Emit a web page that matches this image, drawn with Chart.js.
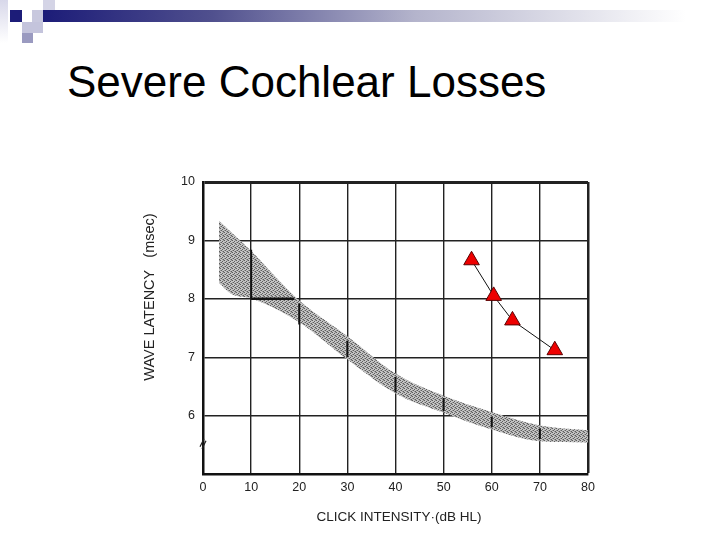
<!DOCTYPE html>
<html lang="en">
  <head>
    <meta charset="utf-8" />
    <title>Severe Cochlear Losses</title>
    <style>
      * {
        margin: 0;
        padding: 0;
        font-family: "Liberation Sans", Arial, sans-serif;
      }
      body {
        width: 720px;
        height: 540px;
        position: relative;
        background: white;
        overflow: hidden;
      }
      .bar {
        position: absolute;
        left: 43px;
        top: 10px;
        width: 677px;
        height: 12px;
        background: linear-gradient(to right, #1c1c78 0%, #50508e 25%, #b4b4cc 55%, #ffffff 95%);
      }
      .sq {
        position: absolute;
      }
      h1 {
        position: absolute;
        left: 67px;
        top: 60px;
        font-size: 44px;
        line-height: 44px;
        font-weight: normal;
        color: #000;
        white-space: nowrap;
      }
      .chartBox {
        position: absolute;
        left: 0;
        top: 0;
        width: 720px;
        height: 540px;
      }
    </style>
  </head>
  <body>
    <div class="bar"></div>
    <div class="sq" style="left:0;top:0;width:8px;height:43px;background:linear-gradient(#d8d8ea,#ffffff)"></div>
    <div class="sq" style="left:10px;top:10px;width:12px;height:12px;background:#1c1c78"></div>
    <div class="sq" style="left:32px;top:10px;width:11px;height:12px;background:#c8c8de"></div>
    <div class="sq" style="left:43px;top:0;width:12px;height:10px;background:#d4d4e6"></div>
    <div class="sq" style="left:22px;top:22px;width:21px;height:11px;background:#c4c4dc"></div>
    <div class="sq" style="left:22px;top:33px;width:11px;height:10px;background:#9a9ac0"></div>
    <h1>Severe Cochlear Losses</h1>

    <div class="chartBox">
      <canvas id="myChart" width="720" height="540"></canvas>
    </div>

    <script src="https://cdn.jsdelivr.net/npm/chart.js"></script>

    <script>
      // shaded normal range (upper and lower edge)
      const upperX = [3.3, 10, 20, 30, 40, 50, 60, 70, 80];
      const upperY = [9.34, 8.82, 7.97, 7.36, 6.72, 6.34, 6.06, 5.83, 5.75];
      const lowerX = [3.0, 6, 10, 20, 30, 40, 50, 60, 70, 80];
      const lowerY = [8.3, 8.08, 8.01, 7.6, 6.96, 6.38, 6.05, 5.76, 5.56, 5.54];

      // dark vertical marks printed inside the band
      const markX = [10, 20, 30, 40, 50, 60, 70];
      const markTop = [8.84, 7.92, 7.28, 6.66, 6.3, 5.98, 5.78];
      const markBottom = [8.0, 7.56, 7.0, 6.4, 6.08, 5.8, 5.6];
      // dark horizontal mark along the 8 ms line
      const hMarkX = [10, 19];
      const hMarkY = [8.0, 8.0];

      // patient (red triangles)
      const patientX = [55.8, 60.4, 64.3, 73.1];
      const patientY = [8.66, 8.05, 7.63, 7.12];

      const xTicks = [0, 10, 20, 30, 40, 50, 60, 70, 80];
      const yTicks = [6, 7, 8, 9, 10];

      const toPoints = (xs, ys) => xs.map((x, i) => ({ x: x, y: ys[i] }));

      function stipple() {
        const c = document.createElement("canvas");
        c.width = 4;
        c.height = 4;
        const g = c.getContext("2d");
        g.fillStyle = "#c4c4c4";
        g.fillRect(0, 0, 4, 4);
        g.fillStyle = "#5e5e5e";
        g.fillRect(0, 0, 1, 1);
        g.fillRect(2, 1, 1, 1);
        g.fillRect(1, 2, 1, 1);
        g.fillRect(3, 3, 1, 1);
        g.fillStyle = "#949494";
        g.fillRect(2, 3, 1, 1);
        g.fillRect(0, 2, 1, 1);
        g.fillRect(3, 0, 1, 1);
        return g.createPattern(c, "repeat");
      }

      const axisText = {
        id: "axisText",
        afterDraw(chart) {
          const { ctx } = chart;
          ctx.save();
          ctx.fillStyle = "#222";
          ctx.font = "13.5px 'Liberation Sans', Arial, sans-serif";
          ctx.textAlign = "center";
          ctx.textBaseline = "middle";
          ctx.fillText("CLICK INTENSITY\u00b7(dB HL)", 399, 517);
          ctx.font = "14.5px 'Liberation Sans', Arial, sans-serif";
          ctx.translate(150, 297);
          ctx.rotate(-Math.PI / 2);
          ctx.fillText("WAVE LATENCY   (msec)", 0, 0);
          ctx.restore();

          // axis break mark
          const y = chart.scales.y.getPixelForValue(5.5);
          const x = chart.chartArea.left;
          ctx.save();
          ctx.strokeStyle = "#222";
          ctx.lineWidth = 1.2;
          ctx.beginPath();
          ctx.moveTo(x - 3, y + 2);
          ctx.lineTo(x + 1, y - 6);
          ctx.moveTo(x - 1, y + 4);
          ctx.lineTo(x + 3, y - 4);
          ctx.stroke();
          ctx.restore();
        },
      };

      const markStyle = {
        borderColor: "#111",
        borderWidth: 2,
        pointRadius: 0,
        fill: false,
        order: 1,
      };

      const markSets = markX.map((x, i) =>
        Object.assign({ label: "mark" + i, data: [{ x: x, y: markTop[i] }, { x: x, y: markBottom[i] }] }, markStyle)
      );

      const data = {
        datasets: [
          {
            label: "upper",
            data: toPoints(upperX, upperY),
            borderWidth: 0,
            pointRadius: 0,
            cubicInterpolationMode: "monotone",
            backgroundColor: stipple(),
            fill: "+1",
            order: 10,
          },
          {
            label: "lower",
            data: toPoints(lowerX, lowerY),
            borderWidth: 0,
            pointRadius: 0,
            cubicInterpolationMode: "monotone",
            fill: false,
            order: 10,
          },
          ...markSets,
          Object.assign({ label: "hmark", data: toPoints(hMarkX, hMarkY) }, markStyle, { borderWidth: 2.5 }),
          {
            label: "patient",
            data: toPoints(patientX, patientY),
            borderColor: "#111",
            borderWidth: 1,
            pointStyle: "triangle",
            pointRadius: 9,
            pointBackgroundColor: "#ee0000",
            pointBorderColor: "#5a0000",
            pointBorderWidth: 1,
            fill: false,
            order: 0,
          },
        ],
      };

      const tickFont = { family: "'Liberation Sans', Arial, sans-serif", size: 12.5 };

      const config = {
        type: "line",
        data: data,
        options: {
          responsive: false,
          animation: false,
          layout: { padding: { top: 182, right: 132, left: 0, bottom: 0 } },
          plugins: {
            legend: { display: false },
            tooltip: { enabled: false },
          },
          scales: {
            x: {
              type: "linear",
              min: 0,
              max: 80,
              afterBuildTicks: (scale) => {
                scale.ticks = xTicks.map((v) => ({ value: v }));
              },
              afterFit: (scale) => {
                scale.height = 66;
              },
              ticks: { color: "#222", font: tickFont, padding: 6 },
              grid: {
                color: "#222",
                lineWidth: (ctx) => (ctx.tick && ctx.tick.value === 80 ? 2.5 : 1.4),
                drawTicks: false,
              },
              border: { color: "#111", width: 2.5 },
            },
            y: {
              type: "linear",
              min: 5,
              max: 10,
              afterBuildTicks: (scale) => {
                scale.ticks = [5].concat(yTicks).map((v) => ({ value: v }));
              },
              afterFit: (scale) => {
                scale.width = 203;
              },
              ticks: {
                color: "#222",
                font: tickFont,
                padding: 8,
                callback: (v) => (v === 5 ? "" : v),
              },
              grid: {
                color: "#222",
                lineWidth: (ctx) => (ctx.tick && ctx.tick.value === 10 ? 3 : 1.4),
                drawTicks: false,
              },
              border: { color: "#111", width: 2.5 },
            },
          },
        },
        plugins: [axisText],
      };

      const myChart = new Chart(document.getElementById("myChart"), config);
    </script>
  </body>
</html>
